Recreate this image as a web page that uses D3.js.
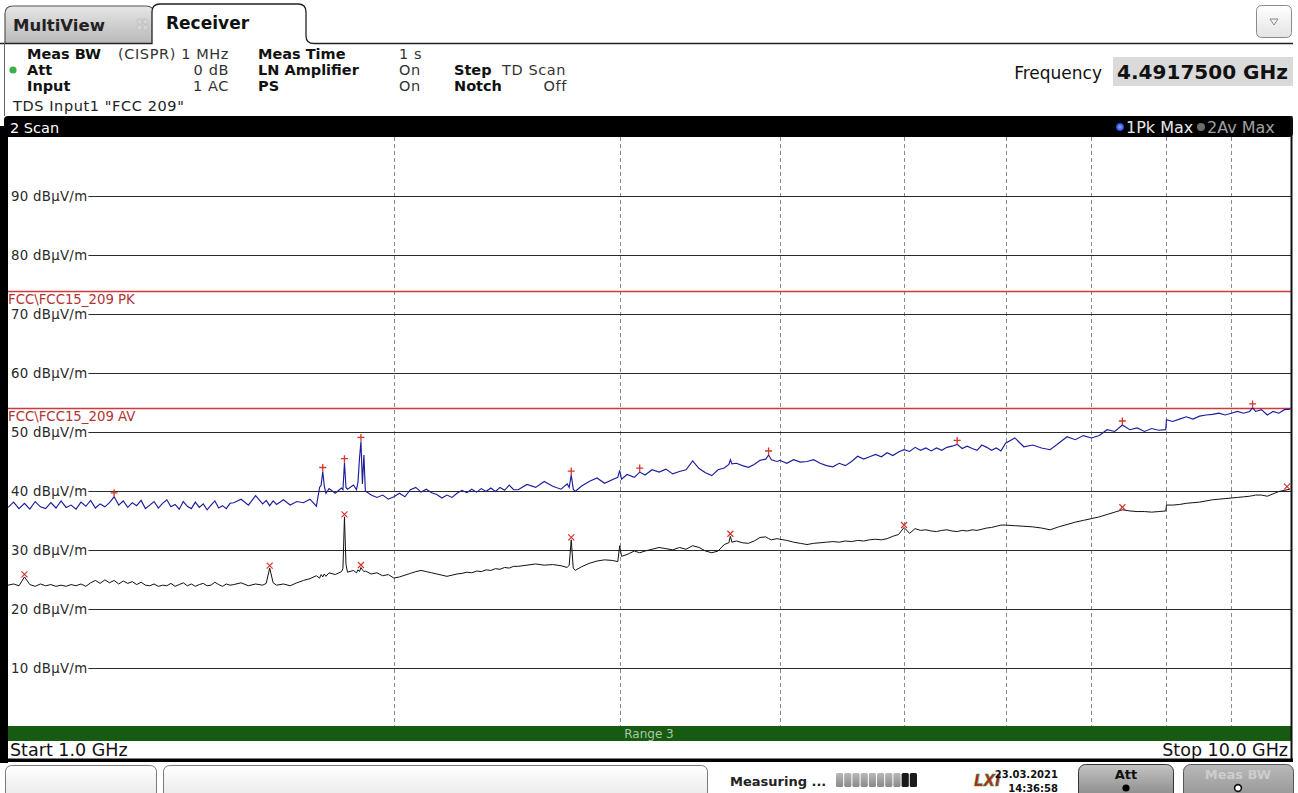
<!DOCTYPE html>
<html><head><meta charset="utf-8">
<script src="https://cdn.jsdelivr.net/npm/d3@7"></script>
<style>
body{margin:0;background:#fff;overflow:hidden}
svg{display:block;font-family:"DejaVu Sans",Verdana,sans-serif}
</style>
</head><body>
<svg id="c" width="1298" height="793"></svg>
<script>
// ---------------- data ----------------
const freqGHz = [
 1.00,1.01,1.02,1.03,1.04,1.05,1.06,1.07,1.08,1.09,
 1.10,1.11,1.12,1.13,1.14,1.15,1.16,1.17,1.18,1.19,
 1.20,1.21,1.22,1.23,1.24,1.25,1.26,1.27,1.28,1.29,
 1.30,1.31,1.32,1.33,1.34,1.35,1.36,1.37,1.38,1.39,
 1.40,1.41,1.42,1.43,1.44,1.45,1.46,1.47,1.48,1.49,
 1.50,1.52,1.54,1.56,1.58,1.59,1.60,1.61,1.62,1.64,
 1.66,1.68,1.70,1.72,1.74,1.75,1.755,1.76,1.765,1.77,
 1.78,1.80,1.82,1.825,1.83,1.835,1.84,1.86,1.87,1.875,
 1.88,1.885,1.89,1.895,1.90,1.92,1.94,1.96,1.98,2.00,
 2.02,2.04,2.06,2.08,2.10,2.12,2.14,2.16,2.18,2.20,2.22,2.24,
 2.26,2.28,2.30,2.32,2.34,2.36,2.38,2.40,2.42,2.44,2.46,2.48,
 2.50,2.54,2.58,2.62,2.66,2.70,2.73,2.74,2.75,2.76,
 2.77,2.80,2.84,2.88,2.92,2.96,2.99,3.00,3.01,3.04,
 3.08,3.11,3.14,3.18,3.22,3.26,3.30,3.34,3.38,3.42,
 3.46,3.50,3.54,3.58,3.62,3.65,3.66,3.67,3.70,3.74,
 3.78,3.82,3.86,3.90,3.92,3.94,3.98,
 4.00,4.05,4.10,4.15,4.20,4.25,4.30,4.35,4.40,4.45,
 4.50,4.55,4.60,4.65,4.70,4.75,4.80,4.85,4.90,4.95,
 5.00,5.05,5.10,5.15,5.20,5.25,5.30,5.35,5.40,5.45,
 5.50,5.55,5.60,5.65,5.70,5.75,5.80,5.85,5.90,5.95,
 6.0,6.1,6.2,6.3,6.4,6.5,6.6,6.7,6.8,6.9,7.0,7.1,7.2,7.3,7.4,7.5,7.6,7.7,7.8,7.9,8.0,
 8.01,
 8.1,8.2,8.3,8.4,8.5,8.6,8.7,8.8,8.9,9.0,9.1,9.2,9.3,
 9.35,
 9.4,9.5,9.6,9.7,9.8,9.9,10.0
];
// 1Pk Max trace (dBµV/m)
const peakDb = [
 37.2,38.1,37.0,37.9,36.9,38.2,37.3,37.0,38.0,37.1,
 38.3,37.2,37.6,36.9,38.1,37.4,38.4,37.1,37.8,37.3,
 38.0,39.0,37.6,38.3,37.2,38.0,37.5,38.4,37.0,37.6,
 38.2,37.1,37.9,38.5,37.3,37.7,36.9,38.2,37.4,37.0,
 38.1,37.2,37.8,36.8,37.6,38.3,37.1,37.5,37.0,37.9,
 38.0,38.6,37.6,39.2,37.8,38.4,37.5,38.3,37.7,38.5,
 37.6,38.2,38.0,38.6,37.4,40.6,41.0,43.3,40.8,39.6,
 40.4,39.6,40.5,40.2,44.8,40.6,40.3,41.0,40.2,41.5,
 45.5,48.4,41.2,46.1,40.0,39.3,38.9,39.3,38.6,39.0,
 39.6,39.0,40.2,40.6,39.8,40.3,39.7,39.4,38.8,39.3,38.9,39.6,
 40.1,39.7,40.3,39.8,40.4,39.9,40.5,39.9,40.6,40.1,41.0,40.2,
 40.2,41.1,40.6,41.6,40.8,40.3,41.2,40.6,42.7,40.3,
 39.9,40.8,41.6,42.2,41.3,41.9,42.3,43.5,42.0,42.8,
 42.3,43.2,42.7,43.6,43.2,43.7,42.9,43.3,43.6,45.1,
 43.8,43.1,42.6,43.6,43.9,44.5,45.3,44.6,44.7,44.3,
 44.0,44.5,45.2,45.4,46.1,45.3,45.0,
 45.2,44.7,45.3,44.9,45.0,45.3,44.7,44.3,44.1,44.7,
 44.3,45.0,45.9,45.4,45.8,46.2,45.8,46.5,46.0,46.6,
 47.0,46.7,47.4,46.9,47.3,46.8,47.3,46.9,47.4,47.6,
 47.9,47.2,47.6,47.2,46.9,47.8,47.4,46.9,47.3,46.8,
 48.1,49.0,47.5,47.8,47.3,47.0,48.1,49.2,48.7,49.4,49.0,49.4,50.4,50.1,51.2,50.4,50.7,50.1,50.6,50.3,50.4,
 52.1,
 51.8,52.2,52.6,52.2,52.7,52.9,53.0,53.2,52.9,53.2,53.5,53.2,53.5,
 54.1,
 53.5,53.8,52.9,53.5,53.2,53.8,53.9
];
// 2Av Max trace (dBµV/m)
const avgDb = [
 24.0,24.2,23.9,25.4,24.1,23.8,24.2,23.9,24.1,23.8,
 24.0,23.8,24.1,23.9,24.2,23.8,24.4,24.8,24.3,24.9,
 24.4,24.8,24.2,24.7,24.3,24.6,24.1,24.5,24.0,23.9,
 24.2,23.8,24.0,23.9,24.3,23.8,24.1,24.4,23.9,24.2,
 23.8,24.1,24.3,23.9,24.0,24.5,24.1,23.8,24.2,24.0,
 24.1,24.4,23.9,24.2,24.0,24.3,26.9,24.4,24.0,24.2,
 23.9,24.4,24.8,25.1,25.6,25.2,25.8,25.4,25.9,25.5,
 26.1,25.8,26.3,26.8,35.6,27.5,26.2,26.5,26.1,26.6,
 26.3,27.0,26.6,26.3,26.4,25.9,26.1,25.6,25.8,25.2,
 25.4,25.7,26.0,26.3,26.5,26.3,26.1,25.9,25.7,25.5,25.7,25.9,
 26.0,26.2,26.1,26.4,26.3,26.6,26.5,26.8,26.7,27.0,26.9,27.2,
 27.2,27.4,27.6,27.4,27.5,27.3,27.0,27.4,31.7,26.9,
 26.5,27.1,27.7,28.1,28.3,28.2,28.0,30.7,28.9,29.2,
 29.8,29.5,29.8,30.1,30.4,30.2,30.0,30.4,30.1,30.7,
 30.4,29.8,29.5,29.8,30.9,31.2,32.3,31.3,31.5,31.2,
 31.1,31.5,32.1,32.2,31.9,31.7,31.9,
 31.8,31.6,31.3,31.1,30.9,31.1,31.2,31.3,31.4,31.3,
 31.5,31.4,31.6,31.5,31.7,31.8,31.7,31.9,32.3,32.6,
 33.8,32.8,33.6,33.3,33.4,33.2,33.1,33.3,33.4,33.2,
 33.1,33.3,33.2,33.4,33.3,33.5,33.7,33.8,34.0,34.2,
 34.2,34.1,34.0,33.9,33.7,33.4,33.9,34.3,34.7,35.0,35.3,35.6,36.0,36.4,36.8,36.6,36.5,36.5,36.4,36.5,36.6,
 37.6,
 37.6,37.7,37.9,38.0,38.1,38.3,38.5,38.6,38.7,38.8,38.9,39.0,39.1,
 39.2,
 39.3,39.3,39.1,39.5,39.9,40.1,40.3
];
const peakMarkerFreq = [1.21,1.76,1.83,1.885,2.75,3.11,3.92,5.50,7.4,9.35];
const peakMarkerDb   = [39.0,43.3,44.8,48.4,42.7,43.2,46.1,47.9,51.2,54.1];
const avgMarkerFreq  = [1.03,1.60,1.83,1.885,2.75,3.66,5.00,7.4,10.0];
const avgMarkerDb    = [25.4,26.9,35.6,27.0,31.7,32.3,33.8,36.8,40.3];
const yTicks = [10,20,30,40,50,60,70,80,90];
const yTickLabels = ["10 dBµV/m","20 dBµV/m","30 dBµV/m","40 dBµV/m","50 dBµV/m","60 dBµV/m","70 dBµV/m","80 dBµV/m","90 dBµV/m"];
const xGridGHz = [2,3,4,5,6,7,8,9];
const limitNames = ["FCC\\FCC15_209 PK","FCC\\FCC15_209 AV"];
const limitValues = [74,54];

// ---------------- layout ----------------
const svg = d3.select("#c");
const defs = svg.append("defs");
const PL=8, PR=1291, PT=137, PB=726;
const x = d3.scaleLog().domain([1,10]).range([8,1290]);
const y = d3.scaleLinear().domain([0,100]).range([726.5,137.6]);

function grad(id, c1, c2){
  const g = defs.append("linearGradient").attr("id",id).attr("x1",0).attr("y1",0).attr("x2",0).attr("y2",1);
  g.append("stop").attr("offset","0%").attr("stop-color",c1);
  g.append("stop").attr("offset","100%").attr("stop-color",c2);
}
grad("gTab","#e6e6e6","#b9b9b9");
grad("gBtn","#ffffff","#e4e4e4");
grad("gAtt","#c4c4c4","#7c7c7c");
grad("gMbw","#b9b9b9","#8e8e8e");
grad("gSeg","#b8b8b8","#8a8a8a");
const rg = defs.append("radialGradient").attr("id","gDot");
rg.append("stop").attr("offset","0%").attr("stop-color","#8fb0ff");
rg.append("stop").attr("offset","100%").attr("stop-color","#1d3fd0");
defs.append("clipPath").attr("id","plotClip").append("rect")
  .attr("x",PL).attr("y",PT).attr("width",PR-PL).attr("height",PB-PT);

function txt(g, s, xx, yy, o={}){
  const t = g.append("text").attr("x",xx).attr("y",yy).text(s)
    .attr("font-size",o.size||13).attr("fill",o.fill||"#1a1a1a");
  if(o.bold) t.attr("font-weight","bold");
  if(o.anchor) t.attr("text-anchor",o.anchor);
  if(o.italic) t.attr("font-style","italic");
  if(o.ls) t.attr("letter-spacing",o.ls);
  if(o.len) t.attr("textLength",o.len).attr("lengthAdjust","spacingAndGlyphs");
  return t;
}

// ---- tabs ----
const tabs = svg.append("g");
tabs.append("path").attr("d","M5,43 L5,14 Q5,6 13,6 L146,6 Q154,6 154,14 L154,43")
  .attr("fill","url(#gTab)").attr("stroke","#555").attr("stroke-width",1.2);
txt(tabs,"MultiView",13,31,{size:16.5,bold:true,fill:"#222"});
const ic = tabs.append("g").attr("fill","#d4d4d4").attr("stroke","#b0b0b0").attr("stroke-width",0.5);
[[137,19],[143,19],[137,25],[143,25]].forEach(p=>ic.append("rect").attr("x",p[0]).attr("y",p[1]).attr("width",5).attr("height",5).attr("rx",1.5));
tabs.append("path").attr("d","M0,43.5 L152,43.5 L152,12 Q152,4 160,4 L298,4 Q306,4 306,12 L306,36 Q306,43.5 314,43.5 L1293,43.5")
  .attr("fill","#fff").attr("stroke","#222").attr("stroke-width",1.3);
tabs.append("rect").attr("x",153).attr("y",40).attr("width",152).attr("height",6).attr("fill","#fff");
txt(tabs,"Receiver",166,29,{size:17,bold:true,fill:"#111"});
tabs.append("line").attr("x1",4.5).attr("x2",4.5).attr("y1",43).attr("y2",116).attr("stroke","#666");
// dropdown
tabs.append("rect").attr("x",1256.5).attr("y",5.5).attr("width",35).attr("height",32).attr("rx",5)
  .attr("fill","url(#gBtn)").attr("stroke","#8a8a8a");
tabs.append("path").attr("d","M1270,19 L1278,19 L1274,25 Z").attr("fill","none").attr("stroke","#888");

// ---- header info ----
const hd = svg.append("g");
hd.append("circle").attr("cx",13).attr("cy",70).attr("r",3.6).attr("fill","#3fae4a");
[["Meas BW",27,59],["Att",27,75],["Input",27,91],["Meas Time",258,59],["LN Amplifier",258,75],["PS",258,91],["Step",454,75],["Notch",454,91]]
  .forEach(d=>txt(hd,d[0],d[1],d[2],{size:14.5,bold:true,fill:"#111"}));
[["(CISPR) 1 MHz",229,59,"end"],["0 dB",229,75,"end"],["1 AC",229,91,"end"],["1 s",399,59],["On",399,75],["On",399,91],["TD Scan",502,75],["Off",567,91,"end"]]
  .forEach(d=>txt(hd,d[0],d[1],d[2],{size:14.5,fill:"#333",anchor:d[3],ls:0.6}));
txt(hd,'TDS Input1 "FCC 209"',13,111,{size:14.5,fill:"#222",ls:0.6});
hd.append("rect").attr("x",1113).attr("y",57).attr("width",180).attr("height",29).attr("fill","#dadada");
txt(hd,"Frequency",1102,79,{size:17,fill:"#111",anchor:"end"});
txt(hd,"4.4917500 GHz",1117,79,{size:19,bold:true,fill:"#111",len:171});

// ---- plot frame ----
svg.append("rect").attr("x",PL).attr("y",PT).attr("width",PR-PL).attr("height",PB-PT).attr("fill","#fff");
svg.append("rect").attr("x",4).attr("y",116).attr("width",1289).attr("height",21).attr("rx",4).attr("fill","#000");
svg.append("rect").attr("x",0).attr("y",126).attr("width",8).attr("height",637).attr("fill","#000");
txt(svg,"2 Scan",10,132.5,{size:14.5,fill:"#fff"});
svg.append("circle").attr("cx",1120).attr("cy",127).attr("r",4).attr("fill","url(#gDot)");
txt(svg,"1Pk Max",1126,132.5,{size:16,fill:"#e8e8e8"});
svg.append("circle").attr("cx",1201).attr("cy",127).attr("r",4).attr("fill","#6c6c6c");
txt(svg,"2Av Max",1207,132.5,{size:16,fill:"#a0a0a0"});

// vertical dashed grid
svg.append("g").selectAll("line").data(xGridGHz).join("line")
  .attr("x1",d=>Math.round(x(d))+0.5).attr("x2",d=>Math.round(x(d))+0.5)
  .attr("y1",PT).attr("y2",PB)
  .attr("stroke","#8a8a8a").attr("stroke-width",1).attr("stroke-dasharray","4,3");

// horizontal grid with labels
const yg = svg.append("g");
yTicks.forEach((v,i)=>{
  const yy = Math.round(y(v))+0.5;
  const t = txt(yg,yTickLabels[i],11,yy+4.5,{size:13.3,fill:"#2a2a2a",ls:0.3});
  const w = t.node().getComputedTextLength();
  yg.append("line").attr("x1",11+w+1).attr("x2",PR).attr("y1",yy).attr("y2",yy)
    .attr("stroke","#2a2a2a").attr("stroke-width",1.2);
});

// limit lines
const lg = svg.append("g");
limitValues.forEach((v,i)=>{
  const yy = Math.round(y(v))+0.5;
  lg.append("line").attr("x1",PL).attr("x2",PR).attr("y1",yy).attr("y2",yy)
    .attr("stroke","#d03a3a").attr("stroke-width",1.3);
  txt(lg,limitNames[i],8,yy+12.5,{size:13.3,fill:"#b03535"});
});

// traces
const tg = svg.append("g").attr("clip-path","url(#plotClip)");
const line = d3.line().x(d=>x(d[0])).y(d=>y(d[1]));
const avgPts = d3.zip(freqGHz, avgDb);
const pkPts = d3.zip(freqGHz, peakDb);
tg.append("path").attr("d",line(avgPts)).attr("fill","none").attr("stroke","#111").attr("stroke-width",1);
tg.append("path").attr("d",line(pkPts)).attr("fill","none").attr("stroke","#1d1d9c").attr("stroke-width",1.15);

// markers
const mg = svg.append("g");
d3.zip(peakMarkerFreq, peakMarkerDb).forEach(d=>{
  mg.append("path").attr("transform",`translate(${x(d[0])},${y(d[1])-4})`)
    .attr("d","M-3.5,0 H3.5 M0,-3.5 V4").attr("stroke","#d8342c").attr("stroke-width",1.3).attr("fill","none");
});
d3.zip(avgMarkerFreq, avgMarkerDb).forEach(d=>{
  mg.append("path").attr("transform",`translate(${Math.min(x(d[0]),1287)},${y(d[1])-2.5})`)
    .attr("d","M-3,-3 L3,3 M3,-3 L-3,3").attr("stroke","#d8342c").attr("stroke-width",1.2).attr("fill","none");
});

// range bar & bottom
svg.append("rect").attr("x",PL).attr("y",PB).attr("width",PR-PL).attr("height",15).attr("fill","#175a12");
txt(svg,"Range 3",649,738,{size:12,fill:"#a9c9a4",anchor:"middle"});
svg.append("rect").attr("x",PL).attr("y",741).attr("width",PR-PL).attr("height",18).attr("fill","#fff");
txt(svg,"Start 1.0 GHz",10,756,{size:17.5,fill:"#111"});
txt(svg,"Stop 10.0 GHz",1288,756,{size:17.5,fill:"#111",anchor:"end"});
svg.append("line").attr("x1",1291.5).attr("x2",1291.5).attr("y1",116).attr("y2",762).attr("stroke","#111").attr("stroke-width",2);
svg.append("rect").attr("x",0).attr("y",758.5).attr("width",1293).attr("height",3.5).attr("fill","#000");

// status bar
const sb = svg.append("g");
sb.append("rect").attr("x",5.5).attr("y",765.5).attr("width",151).attr("height",40).attr("rx",6).attr("fill","url(#gBtn)").attr("stroke","#7a7a7a");
sb.append("rect").attr("x",163.5).attr("y",765.5).attr("width",544).attr("height",40).attr("rx",6).attr("fill","url(#gBtn)").attr("stroke","#7a7a7a");
txt(sb,"Measuring ...",730,786,{size:13,bold:true,fill:"#222"});
const segs = d3.range(10);
sb.selectAll("rect.seg").data(segs).join("rect").attr("class","seg")
  .attr("x",d=>836+d*8.2).attr("y",773).attr("width",7.2).attr("height",14).attr("rx",1.5)
  .attr("fill",d=>d>=8?"#1a1a1a":"url(#gSeg)");
txt(sb,"LXI",974,786,{size:15,bold:true,italic:true,fill:"#b3281f"}).attr("stroke","#3a9a3a").attr("stroke-width",0.5);
txt(sb,"23.03.2021",1058,778,{size:10,bold:true,fill:"#111",anchor:"end"});
txt(sb,"14:36:58",1058,792,{size:10,bold:true,fill:"#111",anchor:"end"});
sb.append("rect").attr("x",1078.5).attr("y",764.5).attr("width",95).attr("height",40).attr("rx",7).attr("fill","url(#gAtt)").attr("stroke","#333");
txt(sb,"Att",1126,779,{size:13,bold:true,fill:"#111",anchor:"middle"});
sb.append("circle").attr("cx",1126).attr("cy",788).attr("r",3.6).attr("fill","#000");
sb.append("rect").attr("x",1183.5).attr("y",764.5).attr("width",110).attr("height",40).attr("rx",7).attr("fill","url(#gMbw)").attr("stroke","#555");
txt(sb,"Meas BW",1238,779,{size:13,bold:true,fill:"#cdcdcd",anchor:"middle"});
sb.append("circle").attr("cx",1238).attr("cy",788).attr("r",3.4).attr("fill","#fff").attr("stroke","#111").attr("stroke-width",1.6);
</script>
</body></html>
